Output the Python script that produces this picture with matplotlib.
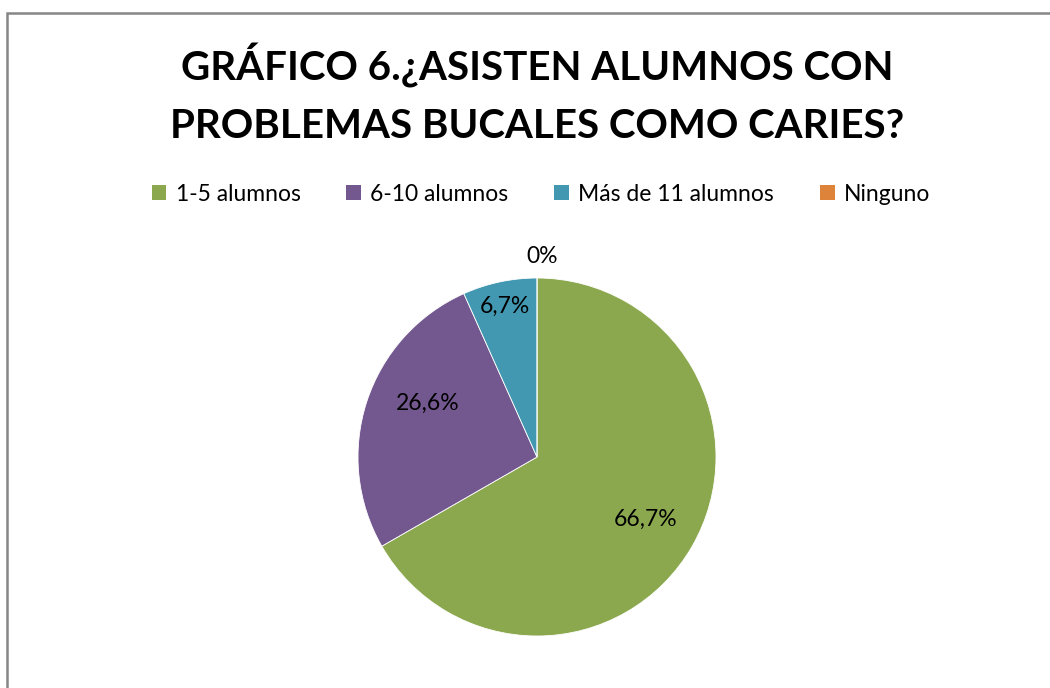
import matplotlib.pyplot as plt
from matplotlib.patches import Rectangle, Patch
import numpy as np

categories = ['1-5 alumnos', '6-10 alumnos', 'Más de 11 alumnos', 'Ninguno']
values = [66.7, 26.6, 6.7, 0.0]
labels = ['66,7%', '26,6%', '6,7%', '0%']
colors = ['#8BA84E', '#73578F', '#4298B0', '#DD843A']

plt.rcParams['font.family'] = ['Lato', 'DejaVu Sans']

fig = plt.figure(figsize=(10.5, 6.88), dpi=100)

# chart border (runs off the right and bottom edges like the original)
fig.patches.append(Rectangle((7 / 1050, -0.1), 1.2, (688 - 13) / 688 + 0.1,
                             transform=fig.transFigure, fill=False,
                             edgecolor='#868686', linewidth=1.8))

fig.text(537 / 1050, 1 - 66 / 688, 'GRÁFICO 6.¿ASISTEN ALUMNOS CON',
         ha='center', va='center', fontsize=29, fontweight='bold')
fig.text(537 / 1050, 1 - 126 / 688, 'PROBLEMAS BUCALES COMO CARIES?',
         ha='center', va='center', fontsize=29, fontweight='bold')

R = 179
ax = fig.add_axes([(537 - R) / 1050, (688 - 457 - R) / 688, 2 * R / 1050, 2 * R / 688])
wedges, _ = ax.pie(values, colors=colors, startangle=90, counterclock=False,
                   radius=1, wedgeprops=dict(edgecolor='white', linewidth=0.6))
ax.set_xlim(-1, 1)
ax.set_ylim(-1, 1)
ax.set_aspect('equal')
ax.axis('off')

# label distances / angle nudges roughly as Excel placed them
dists = [0.7, 0.68, 0.86, 1.12]
nudge = [0, -8, 0, 0]
for w, lab, d, n in zip(wedges, labels, dists, nudge):
    ang = np.deg2rad((w.theta1 + w.theta2) / 2 + n)
    x, y = d * np.cos(ang), d * np.sin(ang)
    if lab == '0%':
        x += 0.03
    ax.text(x, y, lab, ha='center', va='center', fontsize=16.5)

handles = [Patch(facecolor=c, edgecolor='none') for c in colors]
fig.legend(handles, categories, loc='center', bbox_to_anchor=(541 / 1050, 1 - 194 / 688),
           ncol=4, frameon=False, fontsize=16.5, handlelength=0.65, handleheight=0.65,
           handletextpad=0.4, columnspacing=2.0)

fig.savefig('out.png', dpi=100)
